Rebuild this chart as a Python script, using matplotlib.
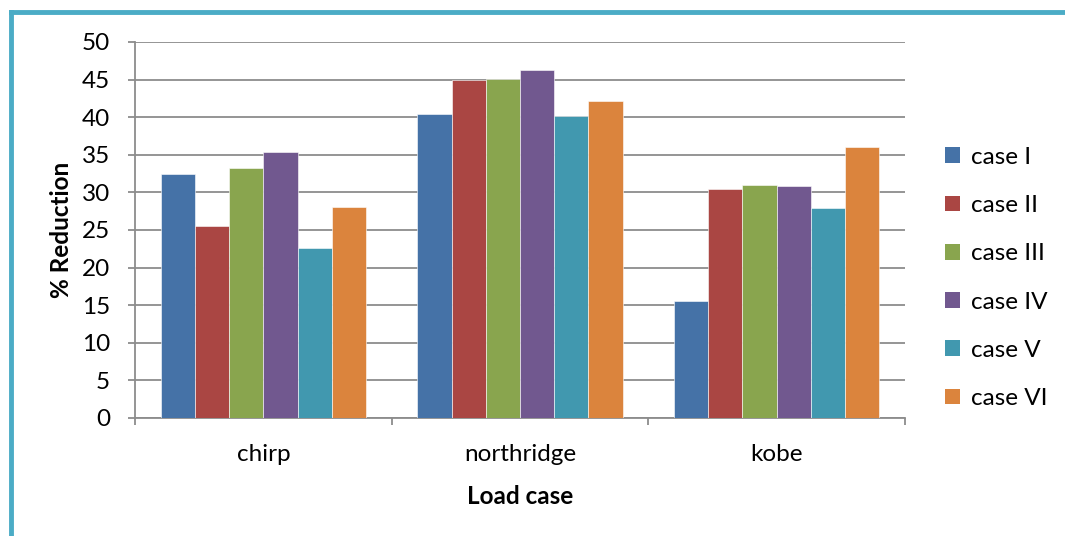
import numpy as np
import matplotlib
matplotlib.use("Agg")
import matplotlib.pyplot as plt
from matplotlib.lines import Line2D
from matplotlib.patches import Patch

plt.rcParams['font.family'] = ['Lato', 'DejaVu Sans']

load_cases = ['chirp', 'northridge', 'kobe']
series = ['case I', 'case II', 'case III', 'case IV', 'case V', 'case VI']
reduction = {
    'case I':   [32.4, 40.4, 15.5],
    'case II':  [25.5, 45.0, 30.4],
    'case III': [33.3, 45.1, 31.0],
    'case IV':  [35.4, 46.3, 30.8],
    'case V':   [22.6, 40.2, 27.9],
    'case VI':  [28.0, 42.1, 36.0],
}
colors = ['#4572A7', '#AA4643', '#89A54E', '#71588F', '#4198AF', '#DB843D']
yticks = list(range(0, 51, 5))

W, H = 1065, 536
FS = 17.5
fig = plt.figure(figsize=(W / 100, H / 100), dpi=100)
ax = fig.add_axes([135 / W, 1 - 418 / H, (905 - 135) / W, (418 - 42) / H])

x = np.arange(len(load_cases))
bw = 0.8 / len(series)
for i, (name, c) in enumerate(zip(series, colors)):
    off = (i - (len(series) - 1) / 2) * bw
    ax.bar(x + off, reduction[name], width=bw, color=c, edgecolor='white',
           linewidth=0.4, zorder=3)

ax.set_xlim(-0.5, len(load_cases) - 0.5)
ax.set_ylim(0, 50)
ax.set_yticks(yticks)
ax.yaxis.grid(True, color='#8c8c8c', linewidth=1.3, zorder=0)

# category boundaries as ticks, labels centred between them
ax.set_xticks(np.arange(-0.5, len(load_cases), 1.0))
ax.set_xticklabels([])
ax.set_xticks(x, minor=True)
ax.set_xticklabels(load_cases, minor=True, fontsize=FS)
ax.tick_params(axis='x', which='minor', length=0, pad=19)
ax.tick_params(axis='x', which='major', length=5, color='#8c8c8c', width=1.3)
ax.tick_params(axis='y', length=5, color='#8c8c8c', width=1.3, labelsize=FS, pad=13)

for s in ['top', 'right']:
    ax.spines[s].set_visible(False)
for s in ['left', 'bottom']:
    ax.spines[s].set_color('#8c8c8c')
    ax.spines[s].set_linewidth(1.3)

ax.set_ylabel('% Reduction', fontsize=FS, fontweight='bold', labelpad=6)
ax.set_xlabel('Load case', fontsize=FS, fontweight='bold', labelpad=14)

handles = [Patch(facecolor=c, edgecolor='none') for c in colors]
fig.legend(handles, series, loc='upper left', bbox_to_anchor=(923 / W, 1 - 125 / H),
           frameon=False, fontsize=FS, handlelength=0.62, handleheight=0.62,
           labelspacing=1.12, handletextpad=0.45)

# outer frame, top and left edges only
fig.add_artist(Line2D([11 / W, 1], [1 - 12 / H, 1 - 12 / H], color='#4BACC6',
                      linewidth=3.5, transform=fig.transFigure))
fig.add_artist(Line2D([11 / W, 11 / W], [0, 1 - 12 / H], color='#4BACC6',
                      linewidth=3.5, transform=fig.transFigure))

fig.savefig('out.png', dpi=100)
